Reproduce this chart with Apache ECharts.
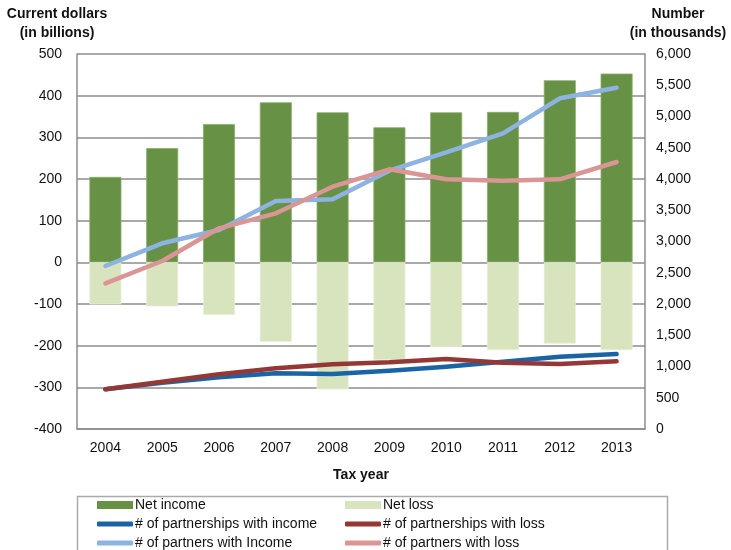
<!DOCTYPE html>
<html>
<head>
<meta charset="utf-8">
<script src="https://cdn.jsdelivr.net/npm/echarts@6/dist/echarts.min.js"></script>
<style>
  html, body { margin: 0; padding: 0; background: #fff; }
  #chart { width: 731px; height: 550px; }
</style>
</head>
<body>
<div id="chart"></div>
<script>
// Tax years on the category axis
const years = ['2004', '2005', '2006', '2007', '2008', '2009', '2010', '2011', '2012', '2013'];

// Net income / net loss, current dollars (billions)
const netIncome = [205, 274, 332, 384, 360, 324, 360, 361, 437, 453];
const netLoss = [-101, -106, -126, -191, -305, -234, -203, -211, -195, -211];

// Counts, in thousands
const partnershipsWithIncome = [635, 741, 827, 891, 880, 933, 997, 1077, 1157, 1200];
const partnershipsWithLoss = [635, 757, 875, 971, 1035, 1067, 1120, 1061, 1040, 1083];
const partnersWithIncome = [2608, 2971, 3184, 3648, 3675, 4133, 4427, 4731, 5291, 5461];
const partnersWithLoss = [2331, 2688, 3211, 3451, 3877, 4155, 3995, 3973, 3995, 4272];

const font = 'Liberation Sans, Arial, sans-serif';
const gridGray = '#8c8c8c';

const chart = echarts.init(document.getElementById('chart'), null, { renderer: 'canvas' });

function lineSeries(name, data, color) {
  return {
    name, type: 'line', yAxisIndex: 1, data,
    symbol: 'none', smooth: false,
    lineStyle: { color, width: 4.5, cap: 'round', join: 'round' },
    itemStyle: { color },
    z: 5
  };
}

// One legend entry per box so each sits at a fixed place in the key
function legendItem(name, left, top, isBar) {
  return {
    left, top, orient: 'horizontal', padding: 0,
    itemWidth: 36, itemHeight: isBar ? 8 : 5, itemGap: 0,
    icon: isBar ? 'rect' : 'roundRect',
    itemStyle: { borderWidth: 0 },
    textStyle: { fontSize: 14, color: '#111', fontFamily: font, padding: [0, 0, 0, -3] },
    data: [name]
  };
}

chart.setOption({
  animation: false,
  textStyle: { fontFamily: font },
  grid: { left: 77, right: 86, top: 54, bottom: 121, containLabel: false },
  xAxis: {
    type: 'category',
    data: years,
    axisLine: { onZero: false, lineStyle: { color: gridGray, width: 1.5 } },
    axisTick: { show: false },
    axisLabel: { color: '#111', fontSize: 14, margin: 12, fontFamily: font },
    name: 'Tax year',
    nameLocation: 'middle',
    nameGap: 39,
    nameTextStyle: { color: '#111', fontSize: 14, fontWeight: 'bold', fontFamily: font }
  },
  yAxis: [
    {
      type: 'value', min: -400, max: 500, interval: 100,
      axisLine: { show: true, lineStyle: { color: gridGray, width: 1.5 } },
      axisTick: { show: false },
      splitLine: { show: true, lineStyle: { color: gridGray, width: 1.5 } },
      axisLabel: { color: '#111', fontSize: 14, margin: 15, fontFamily: font }
    },
    {
      type: 'value', min: 0, max: 6000, interval: 500,
      position: 'right',
      axisLine: { show: true, lineStyle: { color: gridGray, width: 1.5 } },
      axisTick: { show: false },
      splitLine: { show: false },
      axisLabel: {
        color: '#111', fontSize: 14, margin: 11, fontFamily: font,
        formatter: v => v.toLocaleString('en-US')
      }
    }
  ],
  legend: [
    legendItem('Net income', 97, 498, true),
    legendItem('Net loss', 345, 498, true),
    legendItem('# of partnerships with income', 97, 517, false),
    legendItem('# of partnerships with loss', 345, 517, false),
    legendItem('# of partners with Income', 97, 536, false),
    legendItem('# of partners with loss', 345, 536, false)
  ],
  graphic: [
    {
      type: 'rect', left: 75, top: 494,
      shape: { width: 590, height: 70 },
      style: { fill: 'none', stroke: '#aaaaaa', lineWidth: 1.5 }
    },
    {
      type: 'text', x: 57, y: 5,
      style: {
        text: 'Current dollars\n(in billions)', align: 'center', lineHeight: 19,
        font: 'bold 14px ' + font, fill: '#111'
      }
    },
    {
      type: 'text', x: 678, y: 5,
      style: {
        text: 'Number\n(in thousands)', align: 'center', lineHeight: 19,
        font: 'bold 14px ' + font, fill: '#111'
      }
    }
  ],
  series: [
    {
      name: 'Net income', type: 'bar', data: netIncome, barWidth: 32, barGap: '-100%',
      itemStyle: { color: '#679144', borderColor: '#8aae6a', borderWidth: 0.8 }, z: 2
    },
    {
      name: 'Net loss', type: 'bar', data: netLoss, barWidth: 32, barGap: '-100%',
      itemStyle: { color: '#d8e4bd', borderColor: '#e8efd8', borderWidth: 0.8 }, z: 2
    },
    lineSeries('# of partnerships with income', partnershipsWithIncome, '#1a64a6'),
    lineSeries('# of partnerships with loss', partnershipsWithLoss, '#953735'),
    lineSeries('# of partners with Income', partnersWithIncome, '#8db3e2'),
    lineSeries('# of partners with loss', partnersWithLoss, '#d99694')
  ]
});
</script>
</body>
</html>
